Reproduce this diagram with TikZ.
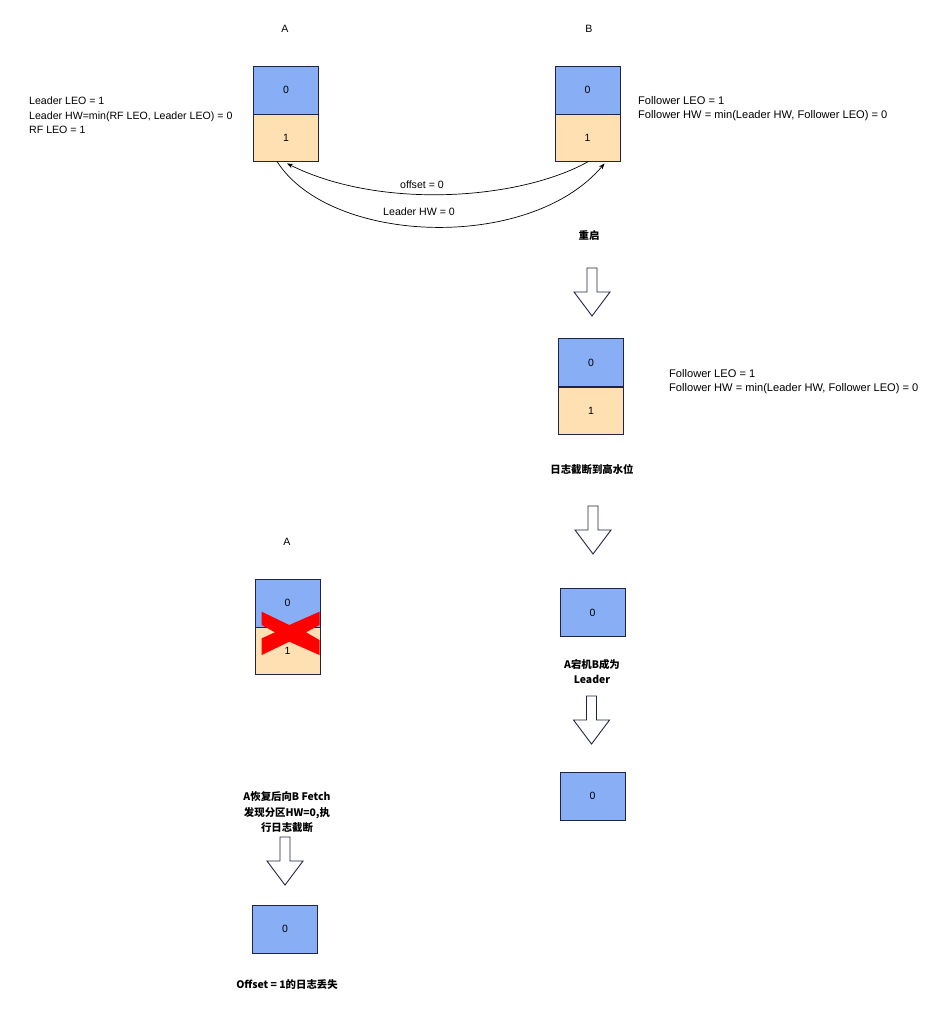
\documentclass[tikz,border=0pt]{standalone}
\usepackage{fontspec}
\setmainfont{Liberation Sans}
\newfontfamily\cjk{Noto Sans CJK SC}
\usetikzlibrary{arrows.meta,calc}
\definecolor{cblue}{HTML}{88AEF5}
\definecolor{cbeige}{HTML}{FFE0B3}
\definecolor{cnavy}{HTML}{1F2346}
\tikzset{
  cellb/.style={draw=cnavy,line width=0.9pt,fill=cblue,minimum width=65pt,minimum height=48pt,inner sep=0pt,font=\fontsize{10.5}{12}\selectfont},
  celly/.style={cellb,fill=cbeige,minimum height=47pt},
  note/.style={align=left,inner sep=0pt,font=\fontsize{10.6}{14.6}\selectfont},
  notew/.style={note,font=\fontsize{11.1}{14.6}\selectfont},
  lbl/.style={inner sep=0pt,font=\fontsize{10.6}{13}\selectfont},
  blbl/.style={align=center,inner sep=0pt,font=\cjk\bfseries\fontsize{10.4}{15.5}\selectfont},
  conn/.style={line width=0.7pt,-{Stealth[length=6pt,width=4.5pt]}},
  barrow/.pic={\draw[cnavy,line width=0.9pt,fill=white,line join=miter] (-5,0) -- (5,0) -- (5,24) -- (18,24) -- (0,48) -- (-18,24) -- (-5,24) -- cycle;}
}
\begin{document}
\begin{tikzpicture}[x=1pt,y=-1pt]
\useasboundingbox (0,0) rectangle (933,1016);
% top A
\node[lbl] (labA) at (285,29) {A};
\node[cellb] (Au) at (286,90) {0};
\node[celly] (Al) at (286,137.5) {1};
\node[note,anchor=west] (noteA) at (29,115.5) {Leader LEO = 1\\Leader HW=min(RF LEO, Leader LEO) = 0\\RF LEO = 1};
% top B
\node[lbl] (labB) at (589,29) {B};
\node[cellb] (Bu) at (587.5,90) {0};
\node[celly] (Bl) at (587.5,137.5) {1};
\node[notew,anchor=west] (noteB) at (638,108.5) {Follower LEO = 1\\Follower HW = min(Leader HW, Follower LEO) = 0};
% curves
\coordinate (c1s) at ($(Bl.south)+(1,0)$);
\coordinate (c1e) at ($(Al.south)+(1,2)$);
\coordinate (c2s) at ($(Al.south)+(-9,0)$);
\coordinate (c2e) at ($(Bl.south)+(17,2)$);
\draw[conn] (c1s) .. controls (520,200) and (380,210) .. (c1e);
\draw[conn] (c2s) .. controls (330,245) and (530,252) .. (c2e);
\node[lbl] (off) at (422,185) {offset = 0};
\node[lbl] (lhw) at (419,212) {Leader HW = 0};
% restart
\node[blbl] (restart) at (589,236) {重启};
\pic at (592,268) {barrow};
\node[cellb] (Mu) at (591,362.5) {0};
\node[celly] (Ml) at (591,410.5) {1};
\node[notew,anchor=west] (noteM) at (669,381.5) {Follower LEO = 1\\Follower HW = min(Leader HW, Follower LEO) = 0};
\node[blbl] (trunc) at (592,470) {日志截断到高水位};
\pic at (593,506) {barrow};
\node[cellb] (R1) at (592.5,612.5) {0};
\node[blbl] (down) at (592,671.5) {A宕机B成为\\Leader};
\pic at (591.5,696) {barrow};
\node[cellb] (R2) at (592.5,796) {0};
% left lower A
\node[lbl] (labA2) at (287,542) {A};
\node[cellb] (Du) at (287.5,603) {0};
\node[celly] (Dl) at (287.5,651) {1};
\fill[red] (261.7,611.7) -- (289.3,625) -- (319.5,611.7) -- (319.5,625) -- (306,632.3) -- (319.5,640) -- (319.5,655) -- (289.3,641.7) -- (261.7,655) -- (261.7,638.3) -- (275,632.3) -- (261.7,625) -- cycle;
\node[blbl] (recover) at (287,812.5) {A恢复后向B Fetch\\发现分区HW=0,执\\行日志截断};
\pic at (285,837) {barrow};
\node[cellb] (E1) at (285,929) {0};
\node[blbl] (lost) at (287,985) {Offset = 1的日志丢失};
\end{tikzpicture}
\end{document}
